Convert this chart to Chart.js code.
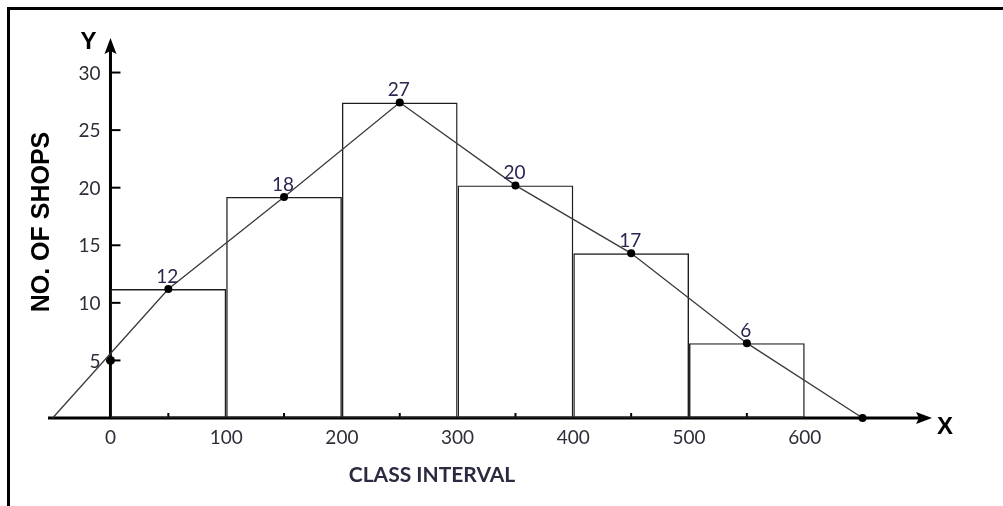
<!DOCTYPE html>
<html lang="en">
<head>
    <meta charset="UTF-8">
    <title>Histogram and Frequency Polygon</title>
    <script src="https://cdn.jsdelivr.net/npm/chart.js"></script>
    <style>
        html, body { margin: 0; padding: 0; background: #fff; }
        #wrap { position: relative; width: 1003px; height: 506px; overflow: hidden; }
        #frame { position: absolute; left: 7px; top: 7px; width: 1000px; height: 510px;
                 border-top: 3px solid #000; border-left: 3px solid #000; }
        canvas { position: absolute; left: 0; top: 0; }
    </style>
</head>
<body>
<div id="wrap">
    <div id="frame"></div>
    <canvas id="grafico" width="1003" height="506"></canvas>
</div>
<script>
    // class intervals (mid points) and bar heights
    const classMids = [50, 150, 250, 350, 450, 550];
    const barHeights = [11.2, 19.2, 27.4, 20.2, 14.3, 6.5];
    const pointLabels = ['12', '18', '27', '20', '17', '6'];

    // frequency polygon: closed at both ends
    const polyX = [-50, 50, 150, 250, 350, 450, 550, 650];
    const polyY = [0, 11.2, 19.2, 27.4, 20.2, 14.3, 6.5, 0];
    const polyDots = [0, 4, 4, 4, 4, 4, 4, 4];

    // extra dot on the y axis
    const axisDotX = [0];
    const axisDotY = [5];

    const xTicks = [0, 100, 200, 300, 400, 500, 600];
    const xMinorTicks = [50, 150, 250, 350, 450, 550];
    const yTicks = [5, 10, 15, 20, 25, 30];

    const numFont = '19px Lato';

    // axes, arrows and texts drawn on the library scales
    const eixos = {
        id: 'eixos',
        beforeDatasetsDraw(chart) {
            const ctx = chart.ctx;
            const xs = chart.scales.x, ys = chart.scales.y;
            const area = chart.chartArea;
            const x0 = xs.getPixelForValue(0);
            const y0 = ys.getPixelForValue(0);
            ctx.save();
            ctx.strokeStyle = '#000';
            ctx.fillStyle = '#000';
            ctx.lineWidth = 3;
            // x axis
            ctx.beginPath();
            ctx.moveTo(area.left, y0);
            ctx.lineTo(area.right - 10, y0);
            ctx.stroke();
            ctx.beginPath();
            ctx.moveTo(area.right, y0);
            ctx.lineTo(area.right - 16, y0 - 6);
            ctx.lineTo(area.right - 13, y0);
            ctx.lineTo(area.right - 16, y0 + 6);
            ctx.closePath();
            ctx.fill();
            // y axis
            ctx.beginPath();
            ctx.moveTo(x0, y0 + 1);
            ctx.lineTo(x0, area.top + 10);
            ctx.stroke();
            ctx.beginPath();
            ctx.moveTo(x0, area.top);
            ctx.lineTo(x0 - 6, area.top + 16);
            ctx.lineTo(x0, area.top + 13);
            ctx.lineTo(x0 + 6, area.top + 16);
            ctx.closePath();
            ctx.fill();

            // y ticks
            ctx.lineWidth = 2;
            ctx.font = numFont;
            ctx.fillStyle = '#2e2e3a';
            ctx.textAlign = 'right';
            ctx.textBaseline = 'middle';
            yTicks.forEach(v => {
                const py = ys.getPixelForValue(v);
                ctx.beginPath();
                ctx.moveTo(x0, py);
                ctx.lineTo(x0 + 10, py);
                ctx.stroke();
                ctx.fillText(String(v), x0 - 10, py + 1);
            });
            // x ticks
            ctx.textAlign = 'center';
            ctx.textBaseline = 'top';
            xTicks.forEach(v => {
                ctx.fillText(String(v), xs.getPixelForValue(v), y0 + 10);
            });
            xMinorTicks.forEach(v => {
                const px = xs.getPixelForValue(v);
                ctx.beginPath();
                ctx.moveTo(px, y0);
                ctx.lineTo(px, y0 - 5);
                ctx.stroke();
            });

            // axis titles
            ctx.fillStyle = '#000';
            ctx.font = 'bold 24px "Liberation Sans"';
            ctx.textBaseline = 'middle';
            ctx.fillText('Y', x0 - 22, area.top + 4);
            ctx.textAlign = 'left';
            ctx.fillText('X', area.right + 5, y0 + 9);

            ctx.save();
            ctx.translate(42, 222);
            ctx.rotate(-Math.PI / 2);
            ctx.textAlign = 'center';
            ctx.font = 'bold 25px "Liberation Sans"';
            ctx.fillText('NO. OF SHOPS', 0, 0);
            ctx.restore();

            ctx.fillStyle = '#2a2a40';
            ctx.font = 'bold 21px Lato';
            ctx.textAlign = 'center';
            ctx.fillText('CLASS INTERVAL', 432, 475);
            ctx.restore();
        },
        afterDatasetsDraw(chart) {
            const ctx = chart.ctx;
            const xs = chart.scales.x, ys = chart.scales.y;
            ctx.save();
            ctx.font = numFont;
            ctx.fillStyle = '#2a2650';
            ctx.textAlign = 'center';
            ctx.textBaseline = 'bottom';
            classMids.forEach((m, i) => {
                ctx.fillText(pointLabels[i], xs.getPixelForValue(m) - 1, ys.getPixelForValue(barHeights[i]) - 3);
            });
            ctx.restore();
        }
    };

    new Chart(document.getElementById('grafico'), {
        type: 'bar',
        data: {
            datasets: [
                {
                    type: 'line',
                    data: polyX.map((x, i) => ({ x: x, y: polyY[i] })),
                    borderColor: '#3a3a3a',
                    borderWidth: 1.3,
                    pointRadius: polyDots,
                    pointBackgroundColor: '#000',
                    pointBorderWidth: 0,
                    tension: 0,
                    clip: false,
                    order: 0
                },
                {
                    type: 'scatter',
                    data: axisDotX.map((x, i) => ({ x: x, y: axisDotY[i] })),
                    pointRadius: 4.5,
                    pointBackgroundColor: '#000',
                    pointBorderWidth: 0,
                    clip: false,
                    order: 0
                },
                {
                    type: 'bar',
                    data: classMids.map((x, i) => ({ x: x, y: barHeights[i] })),
                    backgroundColor: 'rgba(255,255,255,0)',
                    borderColor: '#1e1e1e',
                    borderWidth: 1.4,
                    borderSkipped: false,
                    inflateAmount: 0,
                    barPercentage: 1,
                    categoryPercentage: 1,
                    clip: false,
                    order: 1
                }
            ]
        },
        options: {
            responsive: false,
            animation: false,
            layout: { padding: { left: 48, right: 71, top: 38, bottom: 88 } },
            plugins: { legend: { display: false }, tooltip: { enabled: false } },
            scales: {
                x: {
                    type: 'linear', min: -54, max: 710, offset: false, display: false,
                    afterBuildTicks: s => { s.ticks = xTicks.map(v => ({ value: v })); }
                },
                y: { type: 'linear', min: 0, max: 33, display: false }
            }
        },
        plugins: [eixos]
    });
</script>
</body>
</html>
